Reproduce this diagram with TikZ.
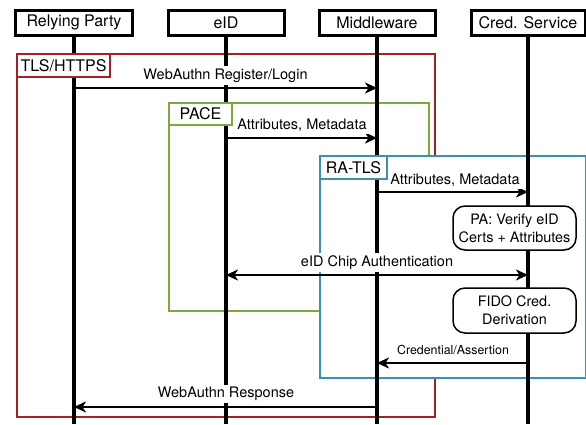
\documentclass[tikz,border=0pt]{standalone}
\usepackage{fontspec}
\setmainfont{TeX Gyre Heros}
\usetikzlibrary{arrows.meta}
\definecolor{tlsred}{RGB}{165,32,36}
\definecolor{pacegreen}{RGB}{125,168,60}
\definecolor{rablue}{RGB}{58,145,172}
\tikzset{
 hdr/.style={draw, line width=3bp, fill=white, minimum width=116bp, minimum height=25bp, inner sep=0pt, font=\fontsize{16bp}{19bp}\selectfont},
 life/.style={line width=3.3bp},
 grp/.style={line width=2bp, fill=white, anchor=north west, inner sep=0pt},
 grplbl/.style={line width=2bp, fill=white, anchor=north west, inner sep=0pt, font=\fontsize{16bp}{19bp}\selectfont},
 tip/.tip={Stealth[length=12bp,width=11bp,inset=3.5bp]},
 msg/.style={line width=2.9bp, -tip},
 msgboth/.style={line width=2.9bp, tip-tip},
 msglbl/.style={fill=white, inner xsep=1bp, inner ysep=2.5bp, font=\fontsize{14.5bp}{17bp}\selectfont},
 note/.style={draw, line width=1.5bp, fill=white, rounded corners=12bp, inner sep=0pt, align=center, minimum width=123bp, font=\fontsize{14.4bp}{18bp}\selectfont},
}
\begin{document}
\begin{tikzpicture}[x=1bp,y=-1bp]
\useasboundingbox (0,0) rectangle (586,424);
% group frames
\node[grp, draw=tlsred, minimum width=418bp, minimum height=363bp] (tls) at (16,53) {};
\node[grp, draw=pacegreen, minimum width=260bp, minimum height=208bp] (pace) at (168,102) {};
\node[grp, draw=rablue, minimum width=266bp, minimum height=222bp] (ra) at (319,155) {};
% participants
\node[hdr] (rp) at (74,22.5) {Relying Party};
\node[hdr] (eid) at (226,22.5) {eID};
\node[hdr] (mw) at (377,22.5) {Middleware};
\node[hdr, minimum width=114bp] (cs) at (528,22.5) {Cred. Service};
% lifelines
\coordinate (bot) at (0,424);
\draw[life] (rp.south) -- (rp.south |- bot);
\draw[life] (eid.south) -- (eid.south |- bot);
\draw[life] (mw.south) -- (mw.south |- bot);
\draw[life] (cs.south) -- (cs.south |- bot);
% group labels
\node[grplbl, draw=tlsred, minimum width=93bp, minimum height=23bp] (tlsl) at (tls.north west) {TLS/HTTPS};
\node[grplbl, draw=pacegreen, minimum width=63bp, minimum height=22bp] (pacel) at (pace.north west) {PACE};
\node[grplbl, draw=rablue, minimum width=67bp, minimum height=23bp] (ral) at (ra.north west) {RA-TLS};
% messages
\draw[msg] (rp |- 0,88) -- (mw |- 0,88);
\node[msglbl] (l1) at (225.5,75.5) {WebAuthn Register/Login};
\draw[msg] (eid |- 0,138) -- (mw |- 0,138);
\node[msglbl] (l2) at (302,125) {Attributes, Metadata};
\draw[msg] (mw |- 0,192) -- (cs |- 0,192);
\node[msglbl] (l3) at (455,180) {Attributes, Metadata};
\node[note, minimum height=44bp] (pa) at (514.5,228) {PA: Verify eID\\Certs + Attributes};
\draw[msgboth] (eid |- 0,275) -- (cs |- 0,275);
\node[msglbl] (l4) at (377,262.5) {eID Chip Authentication};
\node[note, minimum height=45bp] (fido) at (514.5,310.5) {FIDO Cred.\\Derivation};
\draw[msg] (cs |- 0,363) -- (mw |- 0,363);
\node[msglbl, font=\fontsize{12.4bp}{15bp}\selectfont] (l5) at (453,350) {Credential/Assertion};
\draw[msg] (mw |- 0,407) -- (rp |- 0,407);
\node[msglbl] (l6) at (226,394) {WebAuthn Response};
\end{tikzpicture}
\end{document}
